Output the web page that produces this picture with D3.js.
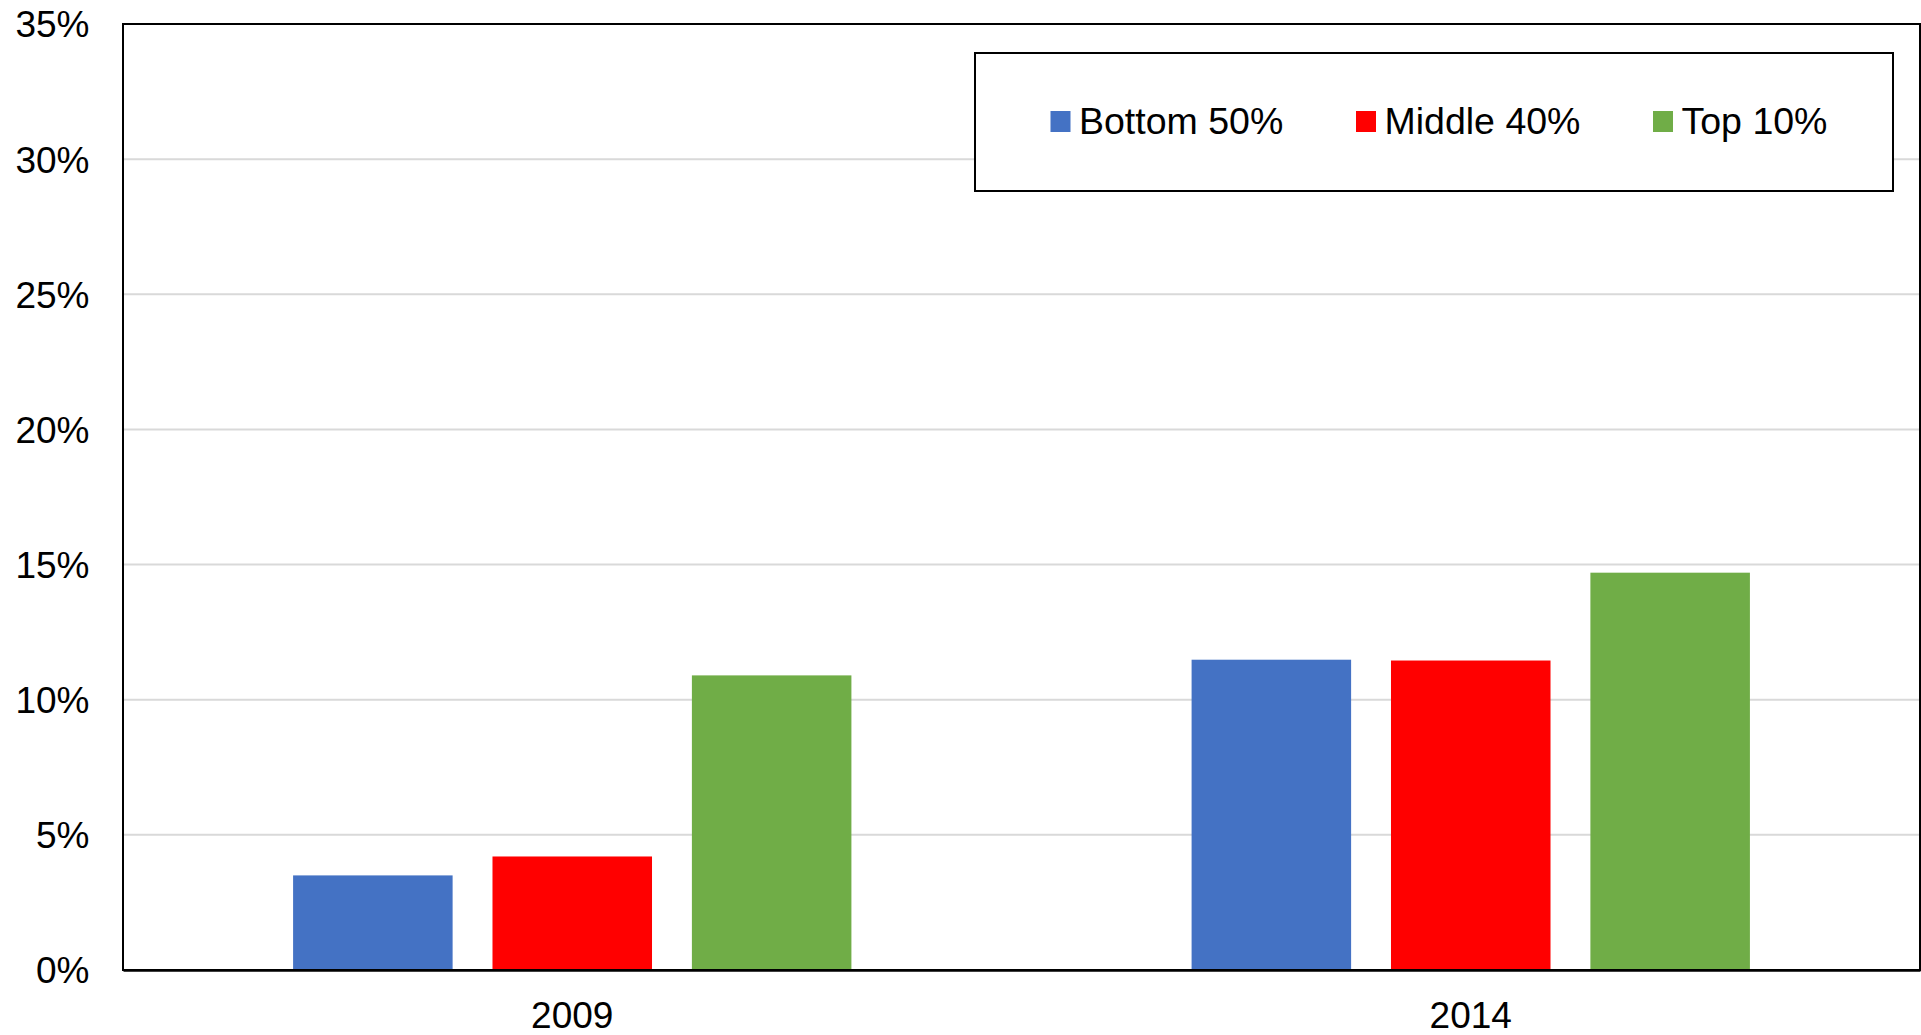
<!DOCTYPE html>
<html>
<head>
<meta charset="utf-8">
<script src="https://cdn.jsdelivr.net/npm/d3@7"></script>
<style>
html,body{margin:0;padding:0;background:#fff;}
svg{display:block;}
text{font-family:"Liberation Sans",Arial,sans-serif;fill:#000;}
</style>
</head>
<body>
<svg id="chart" width="1921" height="1035"></svg>
<script>
const categories = ["2009", "2014"];
const seriesNames = ["Bottom 50%", "Middle 40%", "Top 10%"];
const bottom50 = [3.5, 11.48];
const middle40 = [4.2, 11.45];
const top10 = [10.9, 14.7];
const yTicks = [0, 5, 10, 15, 20, 25, 30, 35];
const colors = ["#4472C4", "#FF0000", "#70AD47"];

const seriesValues = [bottom50, middle40, top10];
const data = categories.map((c, i) => ({
  category: c,
  values: seriesNames.map((s, j) => ({ series: s, value: seriesValues[j][i], color: colors[j] }))
}));

const svg = d3.select("#chart");
const plotLeft = 123, plotRight = 1920, plotTop = 24, plotBottom = 970;

const y = d3.scaleLinear().domain([0, 35]).range([plotBottom, plotTop]);
const x0 = d3.scaleBand().domain(categories).range([plotLeft, plotRight]).paddingInner(0).paddingOuter(0);
const x1 = d3.scaleBand().domain(seriesNames).range([0, x0.bandwidth()]).paddingInner(0.2).paddingOuter(0.853);

// gridlines
svg.append("g")
  .selectAll("line")
  .data(yTicks.filter(t => t > 0 && t < 35))
  .join("line")
  .attr("x1", plotLeft).attr("x2", plotRight)
  .attr("y1", d => y(d)).attr("y2", d => y(d))
  .attr("stroke", "#d9d9d9").attr("stroke-width", 2);

// bars
svg.append("g")
  .selectAll("g")
  .data(data)
  .join("g")
  .attr("transform", d => `translate(${x0(d.category)},0)`)
  .selectAll("rect")
  .data(d => d.values)
  .join("rect")
  .attr("x", d => x1(d.series))
  .attr("width", x1.bandwidth())
  .attr("y", d => y(d.value))
  .attr("height", d => y(0) - y(d.value))
  .attr("fill", d => d.color);

// frame
svg.append("rect")
  .attr("x", plotLeft).attr("y", plotTop)
  .attr("width", plotRight - plotLeft).attr("height", plotBottom - plotTop)
  .attr("fill", "none").attr("stroke", "#000").attr("stroke-width", 2);

// y axis
const yAxis = d3.axisLeft(y).tickValues(yTicks).tickSize(0).tickPadding(33.5)
  .tickFormat(d => d + "%");
const gy = svg.append("g").attr("transform", `translate(${plotLeft},0)`).call(yAxis);
gy.select(".domain").remove();
gy.selectAll("text").style("font-size", "37px").style("font-family", "'Liberation Sans', Arial, sans-serif").attr("dy", "0.35em");

// x axis
const xAxis = d3.axisBottom(x0).tickSize(0).tickPadding(32);
const gx = svg.append("g").attr("transform", `translate(0,${plotBottom})`).call(xAxis);
gx.select(".domain").attr("stroke", "#000").attr("stroke-width", 2.5);
gx.selectAll("text").style("font-size", "37px").style("font-family", "'Liberation Sans', Arial, sans-serif").attr("dy", "0.71em");

// legend
const legend = svg.append("g");
legend.append("rect")
  .attr("x", 975).attr("y", 53).attr("width", 918).attr("height", 138)
  .attr("fill", "#fff").attr("stroke", "#000").attr("stroke-width", 2);
const legendX = [1050.5, 1356, 1653];
const items = legend.selectAll("g.item").data(seriesNames).join("g").attr("class", "item")
  .attr("transform", (d, i) => `translate(${legendX[i]},0)`);
items.append("rect").attr("x", 0).attr("y", 111).attr("width", 20).attr("height", 21)
  .attr("fill", (d, i) => colors[i]);
items.append("text").attr("x", 28.5).attr("y", 134).text(d => d)
  .style("font-size", "37.5px");
</script>
</body>
</html>
